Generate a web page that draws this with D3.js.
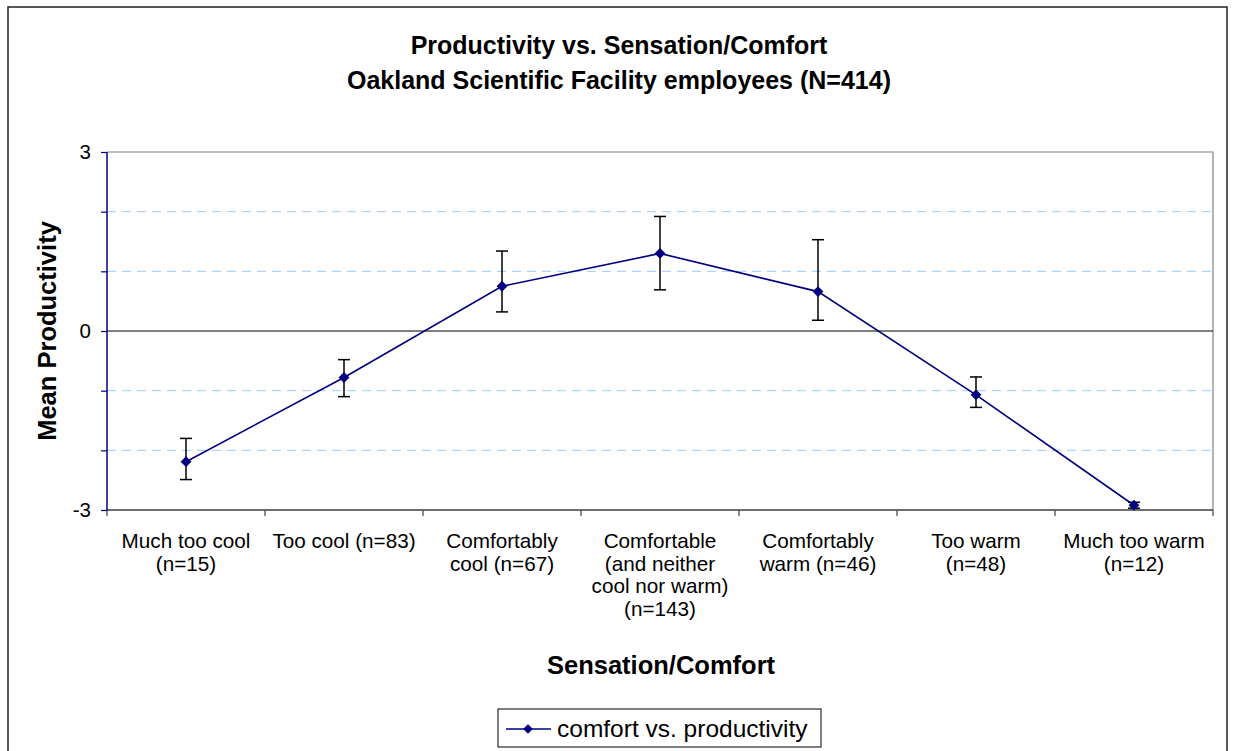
<!DOCTYPE html>
<html>
<head>
<meta charset="utf-8">
<script src="https://cdn.jsdelivr.net/npm/d3@7"></script>
<style>
  html, body { margin: 0; padding: 0; background: #fff; }
  svg { display: block; font-family: "Liberation Sans", Arial, sans-serif; }
</style>
</head>
<body>
<svg id="chart" width="1233" height="751"></svg>
<script>
// Categories of thermal sensation / comfort, with multi-line axis labels
const categories = [
  ["Much too cool", "(n=15)"],
  ["Too cool (n=83)"],
  ["Comfortably", "cool (n=67)"],
  ["Comfortable", "(and neither", "cool nor warm)", "(n=143)"],
  ["Comfortably", "warm (n=46)"],
  ["Too warm", "(n=48)"],
  ["Much too warm", "(n=12)"]
];
// Mean productivity per category and the error bar ends
const meanProductivity = [-2.19, -0.78, 0.75, 1.30, 0.66, -1.07, -2.92];
const errorLow  = [-2.49, -1.10, 0.32, 0.69, 0.18, -1.28, -2.97];
const errorHigh = [-1.80, -0.48, 1.34, 1.92, 1.53, -0.77, -2.87];
const yTicks = [-3, -2, -1, 0, 1, 2, 3];
const yTickLabels = [-3, 0, 3];
const seriesName = "comfort vs. productivity";

const svg = d3.select("#chart");
const plot = { left: 107, top: 152, right: 1213, bottom: 510 };

const x = d3.scaleBand()
  .domain(d3.range(categories.length))
  .range([plot.left, plot.right])
  .paddingInner(0).paddingOuter(0);
const y = d3.scaleLinear().domain([-3, 3]).range([plot.bottom, plot.top]);

// Outer chart frame
svg.append("rect")
  .attr("x", 8).attr("y", 7).attr("width", 1219).attr("height", 760)
  .attr("fill", "none").attr("stroke", "#222").attr("stroke-width", 1.5);

// Titles
const title = svg.append("text")
  .attr("text-anchor", "middle")
  .attr("font-weight", "bold").attr("font-size", 25).attr("fill", "#000");
title.append("tspan").attr("x", 619).attr("y", 54).text("Productivity vs. Sensation/Comfort");
title.append("tspan").attr("x", 619).attr("y", 89).text("Oakland Scientific Facility employees (N=414)");

// Dashed gridlines
svg.append("g").selectAll("line")
  .data(yTicks.filter(d => d !== 0 && d !== 3 && d !== -3))
  .join("line")
  .attr("x1", plot.left).attr("x2", plot.right)
  .attr("y1", d => y(d)).attr("y2", d => y(d))
  .attr("stroke", "#99ccff").attr("stroke-width", 1)
  .attr("stroke-dasharray", "9,6");

// Plot border (top and right)
svg.append("path")
  .attr("d", `M${plot.left},${y(3)}H${plot.right}V${plot.bottom}`)
  .attr("fill", "none").attr("stroke", "#808080").attr("stroke-width", 1.2);

// Zero line
svg.append("line")
  .attr("x1", plot.left).attr("x2", plot.right)
  .attr("y1", y(0)).attr("y2", y(0))
  .attr("stroke", "#000").attr("stroke-width", 1);

// X axis with ticks at category boundaries
const xBoundaries = d3.range(categories.length + 1).map(i =>
  i < categories.length ? x(i) : x(categories.length - 1) + x.bandwidth());
const xAxisG = svg.append("g");
xAxisG.append("line")
  .attr("x1", plot.left).attr("x2", plot.right)
  .attr("y1", plot.bottom).attr("y2", plot.bottom)
  .attr("stroke", "#404040").attr("stroke-width", 1.6);
xAxisG.selectAll("line.tick").data(xBoundaries).join("line")
  .attr("class", "tick")
  .attr("x1", d => d).attr("x2", d => d)
  .attr("y1", plot.bottom).attr("y2", plot.bottom + 6)
  .attr("stroke", "#404040").attr("stroke-width", 1.2);

// X category labels
const xLabels = svg.append("g")
  .attr("font-size", 20.7).attr("fill", "#000").attr("text-anchor", "middle");
categories.forEach((lines, i) => {
  const t = xLabels.append("text");
  lines.forEach((ln, j) => {
    t.append("tspan")
      .attr("x", x(i) + x.bandwidth() / 2)
      .attr("y", 548 + j * 22.5)
      .text(ln);
  });
});

// Y axis (navy) with integer ticks
const yAxis = d3.axisLeft(y)
  .tickValues(yTicks)
  .tickSize(6)
  .tickFormat(d => yTickLabels.includes(d) ? String(d) : "");
const yAxisG = svg.append("g")
  .attr("transform", `translate(${plot.left},0)`)
  .call(yAxis);
yAxisG.select(".domain").attr("stroke", "#000080").attr("stroke-width", 1.5).attr("d", `M0,${plot.top}V${plot.bottom}`);
yAxisG.selectAll(".tick line").attr("stroke", "#000080").attr("stroke-width", 1.2);
yAxisG.selectAll(".tick text")
  .attr("font-size", 20.5).attr("font-family", "Liberation Sans, Arial, sans-serif")
  .attr("fill", "#000").attr("x", -16);

// Axis titles
svg.append("text")
  .attr("x", 661).attr("y", 674)
  .attr("text-anchor", "middle").attr("font-weight", "bold").attr("font-size", 25.5)
  .text("Sensation/Comfort");
svg.append("text")
  .attr("transform", `translate(56,${y(0)}) rotate(-90)`)
  .attr("text-anchor", "middle").attr("font-weight", "bold").attr("font-size", 25.5)
  .text("Mean Productivity");

// Clip data marks to the plot area
svg.append("clipPath").attr("id", "plotClip")
  .append("rect")
  .attr("x", plot.left).attr("y", plot.top)
  .attr("width", plot.right - plot.left).attr("height", plot.bottom - plot.top);

const cx = i => x(i) + x.bandwidth() / 2;
const marks = svg.append("g").attr("clip-path", "url(#plotClip)");

// Error bars
const capHalf = 6;
const eb = marks.append("g").attr("stroke", "#000").attr("stroke-width", 1.5);
meanProductivity.forEach((m, i) => {
  eb.append("line")
    .attr("x1", cx(i)).attr("x2", cx(i))
    .attr("y1", y(errorLow[i])).attr("y2", y(errorHigh[i]));
  [errorLow[i], errorHigh[i]].forEach(v => {
    eb.append("line")
      .attr("x1", cx(i) - capHalf).attr("x2", cx(i) + capHalf)
      .attr("y1", y(v)).attr("y2", y(v));
  });
});

// Series line
const line = d3.line().x((d, i) => cx(i)).y(d => y(d));
svg.append("path")
  .datum(meanProductivity)
  .attr("d", line)
  .attr("fill", "none").attr("stroke", "#000080").attr("stroke-width", 1.6);

// Diamond markers
const diamond = d3.symbol().type(d3.symbolDiamond2).size(75);
svg.append("g").selectAll("path")
  .data(meanProductivity)
  .join("path")
  .attr("transform", (d, i) => `translate(${cx(i)},${y(d)})`)
  .attr("d", diamond)
  .attr("fill", "#000080");

// Legend
const lg = svg.append("g");
lg.append("rect")
  .attr("x", 498).attr("y", 709).attr("width", 323).attr("height", 38)
  .attr("fill", "#fff").attr("stroke", "#000").attr("stroke-width", 1);
lg.append("line")
  .attr("x1", 506).attr("x2", 551).attr("y1", 729).attr("y2", 729)
  .attr("stroke", "#000080").attr("stroke-width", 1.6);
lg.append("path")
  .attr("transform", "translate(528,729)")
  .attr("d", d3.symbol().type(d3.symbolDiamond2).size(60))
  .attr("fill", "#000080");
lg.append("text")
  .attr("x", 557).attr("y", 737)
  .attr("font-size", 24.5).attr("fill", "#000")
  .text(seriesName);
</script>
</body>
</html>
